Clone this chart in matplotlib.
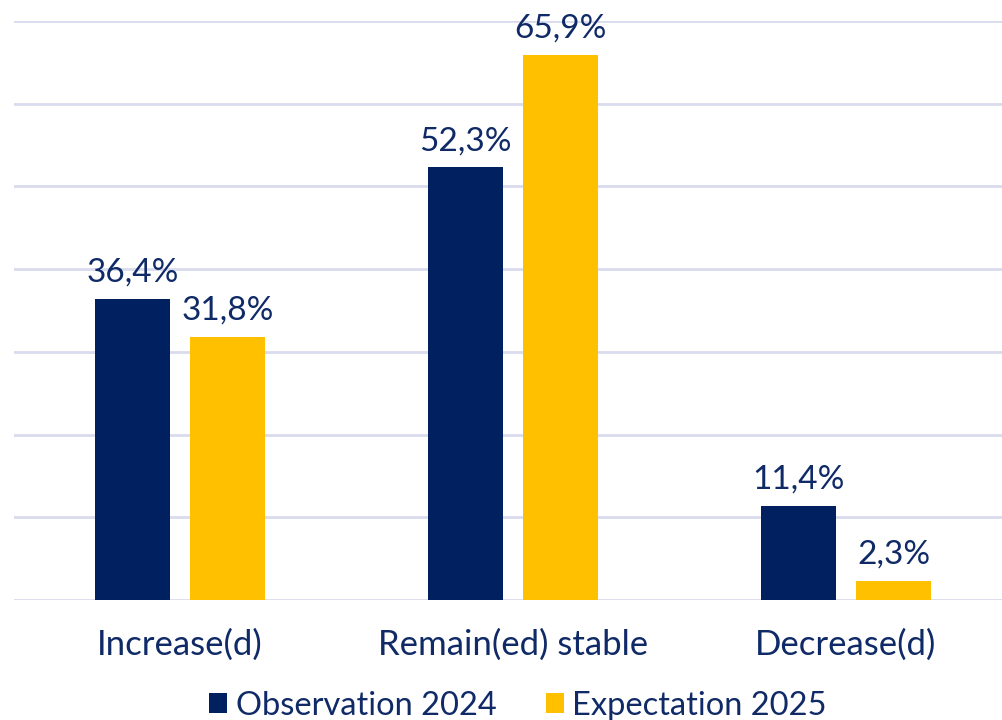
import matplotlib
matplotlib.use("Agg")
import matplotlib.pyplot as plt
from matplotlib.patches import Patch
import numpy as np

plt.rcParams['font.family'] = ['Lato', 'DejaVu Sans']

categories = ["Increase(d)", "Remain(ed) stable", "Decrease(d)"]
series_names = ["Observation 2024", "Expectation 2025"]
observation_2024 = [36.4, 52.3, 11.4]
expectation_2025 = [31.8, 65.9, 2.3]

navy = "#002060"
gold = "#FFC000"
text_color = "#0F2A66"
grid_color = "#D9DCEE"

fig = plt.figure(figsize=(10.02, 7.2), dpi=100)
ax = fig.add_axes([13.5 / 1002, 1 - 600 / 720, 999 / 1002, (600 - 21) / 720])

x = np.arange(len(categories))
width = 0.225
offset = 0.1425

bars1 = ax.bar(x - offset, observation_2024, width, color=navy, zorder=3)
bars2 = ax.bar(x + offset, expectation_2025, width, color=gold, zorder=3)

for bars, vals in ((bars1, observation_2024), (bars2, expectation_2025)):
    for b, v in zip(bars, vals):
        ax.annotate(f"{v:.1f}%".replace(".", ","),
                    (b.get_x() + b.get_width() / 2, v),
                    xytext=(0, 8), textcoords="offset points",
                    ha="center", va="bottom", fontsize=24, color=text_color)

ax.set_xlim(-0.5, 2.5)
ax.set_ylim(0, 70)
ax.set_yticks(np.arange(0, 71, 10))
ax.yaxis.grid(True, color=grid_color, linewidth=2, zorder=0)
ax.tick_params(axis="y", left=False, labelleft=False)
ax.tick_params(axis="x", bottom=False, pad=17)
ax.set_xticks(x)
ax.set_xticklabels(categories, fontsize=25, color=text_color)
for s in ax.spines.values():
    s.set_visible(False)

handles = [Patch(facecolor=navy), Patch(facecolor=gold)]
fig.legend(handles, series_names, loc="lower center", bbox_to_anchor=(0.517, -0.042),
           ncol=2, frameon=False, fontsize=23.5, labelcolor=text_color,
           handlelength=0.55, handleheight=0.55, handletextpad=0.27, columnspacing=1.5)

fig.savefig("out.png", dpi=100)
